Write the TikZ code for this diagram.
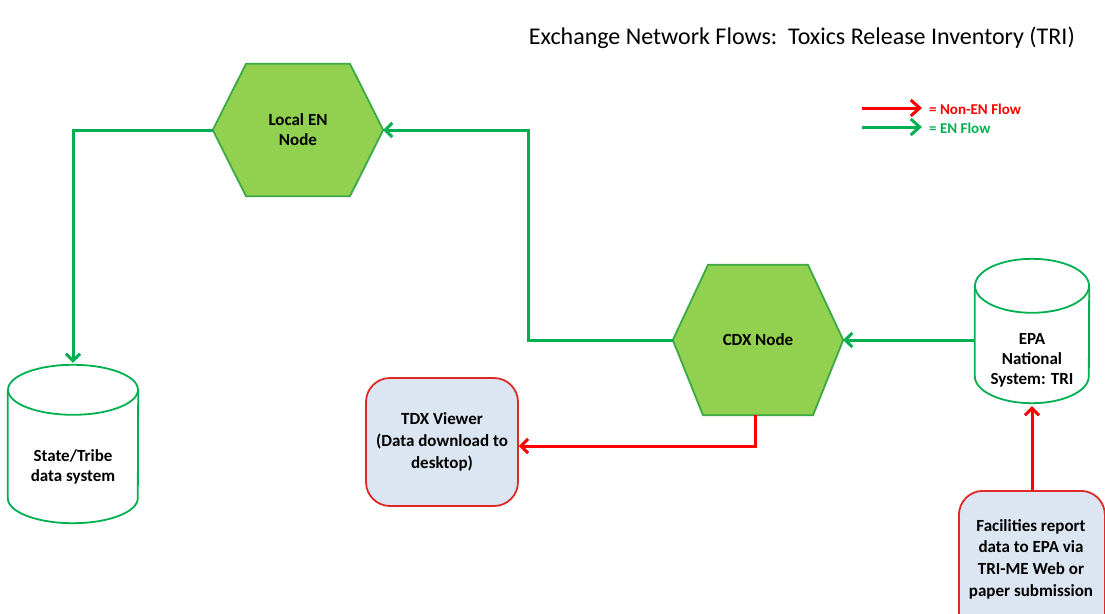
\documentclass[tikz,border=0pt]{standalone}
\usepackage{fontspec}
\setmainfont{Carlito}
\usetikzlibrary{arrows.meta,backgrounds}
\definecolor{engreen}{HTML}{00B050}
\definecolor{hexfill}{HTML}{92D050}
\definecolor{hexline}{HTML}{3AAA45}
\definecolor{flowred}{HTML}{FF0000}
\definecolor{boxred}{HTML}{E02828}
\definecolor{boxfill}{HTML}{DCE6F2}
\tikzset{
  flow/.style={line width=3pt, -{Straight Barb[length=7pt,width=14pt]}},
  enflow/.style={flow, draw=engreen},
  nonflow/.style={flow, draw=flowred},
  hexnode/.style={minimum width=170pt, inner sep=0pt, align=center,
    font=\bfseries\fontsize{17}{20}\selectfont},
  hexshape/.style={fill=hexfill, draw=hexline, line width=1.8pt, line join=miter},
  cylnode/.style={inner sep=0pt, align=center,
    font=\bfseries\fontsize{17}{20}\selectfont},
  cylshape/.style={draw=engreen, line width=1.8pt},
  redbox/.style={draw=boxred, fill=boxfill, line width=1.8pt, rounded corners=24pt,
    align=center, inner sep=0pt, font=\bfseries\fontsize{17}{22}\selectfont},
  legendtext/.style={anchor=west, inner sep=0pt, font=\bfseries\fontsize{15}{18}\selectfont},
}
\begin{document}
\begin{tikzpicture}[x=1pt,y=-1pt]
\useasboundingbox (0,0) rectangle (1105,613);
\clip (0,0) rectangle (1105,613);

% title
\node[anchor=base east, inner sep=0pt, font=\fontsize{24}{28}\selectfont] (title) at (1075,44)
  {Exchange Network Flows:\ \ Toxics Release Inventory (TRI)};

% hexagon nodes
\node[hexnode, minimum height=132pt] (local) at (298,130) {Local EN\\Node};
\node[hexnode, minimum height=150pt] (cdx) at (758,340) {CDX Node};
\begin{pgfonlayer}{background}
\draw[hexshape] (local.west) -- ([xshift=-52pt]local.north) -- ([xshift=52pt]local.north)
  -- (local.east) -- ([xshift=52pt]local.south) -- ([xshift=-52pt]local.south) -- cycle;
\draw[hexshape] (cdx.west) -- ([xshift=-50pt]cdx.north) -- ([xshift=50pt]cdx.north)
  -- (cdx.east) -- ([xshift=55pt]cdx.south) -- ([xshift=-55pt]cdx.south) -- cycle;
\end{pgfonlayer}

% cylinders (node = body below the top ellipse centre)
\node[cylnode, minimum width=130pt, minimum height=133pt] (state) at (73,456.5) {};
\node[cylnode] (statetxt) at (73,467) {State/Tribe\\data system};
\draw[cylshape] (state.north) ellipse [x radius=65pt, y radius=25pt];
\draw[cylshape] (state.north west) -- ([yshift=25pt]state.south west)
  arc[start angle=180, end angle=360, x radius=65pt, y radius=25pt] -- (state.north east);

\node[cylnode, minimum width=114pt, minimum height=117pt] (epa) at (1032,344.5) {};
\node[cylnode] (epatxt) at (1032,360) {EPA\\National\\System: TRI};
\draw[cylshape] (epa.north) ellipse [x radius=57pt, y radius=27pt];
\draw[cylshape] (epa.north west) -- ([yshift=27pt]epa.south west)
  arc[start angle=180, end angle=360, x radius=57pt, y radius=27pt] -- (epa.north east);

% red boxes
\node[redbox, minimum width=152pt, minimum height=128pt] (tdx) at (442,442)
  {TDX Viewer\\(Data download to\\desktop)};
\node[redbox, minimum width=146pt, minimum height=150pt, anchor=north west] (fac) at (958,490) {};
\node[cylnode, font=\bfseries\fontsize{17}{21.7}\selectfont] (factxt) at (1031,559)
  {Facilities report\\data to EPA via\\TRI-ME Web or\\paper submission};

% connectors
\coordinate (bend) at (528,340);
\draw[enflow] (local.west) -| ([yshift=27pt]state.north);
\draw[enflow] (cdx.west) -- (bend) |- (local.east);
\draw[enflow] (epa.west |- cdx.east) -- (cdx.east);
\draw[nonflow] ([xshift=-3pt]cdx.south) |- ([yshift=-4pt]tdx.east);
\draw[nonflow] (fac.north -| epa.south) -- ([yshift=-3pt]epa.south);

% legend
\coordinate (lr1) at (862,108);
\coordinate (lr2) at (922,108);
\coordinate (lg1) at (862,127);
\coordinate (lg2) at (922,127);
\draw[line width=3pt, flowred, -{Straight Barb[length=9pt,width=16pt]}] (lr1) -- (lr2);
\draw[line width=3pt, engreen, -{Straight Barb[length=9pt,width=16pt]}] (lg1) -- (lg2);
\node[legendtext, text=flowred] (lnon) at (929,109) {= Non-EN Flow};
\node[legendtext, text=engreen] (len) at (929,128) {= EN Flow};
\end{tikzpicture}
\end{document}
